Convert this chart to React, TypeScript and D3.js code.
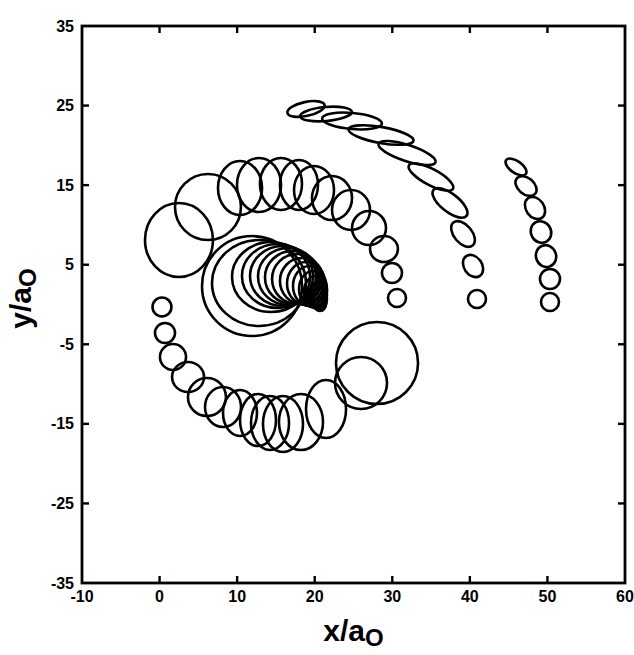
import React from "react";
import { scaleLinear } from "d3";

// rings as [x, y, rx, ry, tilt(deg)], all in units of a0
const upperArc = [
  [2.5, 8.11, 4.38, 4.65, 0],
  [6.24, 12.25, 4.25, 4.15, 0],
  [10.37, 14.64, 2.84, 3.39, 0],
  [12.82, 15.02, 2.84, 3.39, 0],
  [15.65, 15.14, 2.71, 3.27, 0],
  [17.97, 15.02, 2.45, 3.14, 0],
  [19.91, 14.39, 2.58, 3.02, 0],
  [22.23, 13.38, 2.58, 2.76, 0],
  [24.68, 11.88, 2.45, 2.51, 0],
  [27.0, 9.61, 2.19, 2.14, 0],
  [28.93, 6.97, 1.8, 1.63, 0],
  [29.96, 3.96, 1.29, 1.26, 0],
  [30.61, 0.82, 1.16, 1.13, 0]
];

const lowerArc = [
  [0.31, -0.31, 1.22, 1.19, 0],
  [0.7, -3.58, 1.29, 1.26, 0],
  [1.73, -6.6, 1.68, 1.63, 0],
  [3.67, -9.11, 2.06, 1.89, 0],
  [6.11, -11.63, 2.45, 2.39, 0],
  [8.18, -12.88, 2.32, 2.51, 0],
  [10.37, -13.64, 2.19, 2.89, 0],
  [12.69, -14.52, 2.32, 3.27, 0],
  [14.24, -14.89, 2.45, 3.39, 0],
  [15.91, -15.02, 2.58, 3.52, 0],
  [18.23, -14.77, 2.84, 3.52, 0],
  [21.46, -13.13, 2.58, 3.64, 0],
  [25.97, -9.87, 3.35, 3.27, 0],
  [28.03, -7.35, 5.29, 5.15, 0]
];

const innerSpiral = [
  [11.92, 2.32, 6.45, 6.28, 0],
  [12.82, 2.7, 6.06, 5.4, 0],
  [14.37, 3.46, 5.03, 4.4, 0],
  [15.2, 3.58, 4.58, 4.02, 0],
  [15.91, 3.58, 4.25, 3.77, 0],
  [16.56, 3.52, 3.87, 3.58, 0],
  [17.14, 3.39, 3.55, 3.33, 0],
  [17.72, 3.2, 3.22, 3.14, 0],
  [18.36, 2.95, 2.84, 2.89, 0],
  [18.88, 2.64, 2.45, 2.7, 0],
  [19.33, 2.32, 2.13, 2.51, 0],
  [19.78, 1.95, 1.8, 2.26, 0],
  [20.1, 1.57, 1.48, 2.01, 0],
  [20.42, 1.13, 1.16, 1.7, 0],
  [20.68, 0.69, 0.9, 1.38, 0],
  [20.68, 0.06, 0.77, 0.88, 0]
];

const middleArc = [
  [18.88, 24.57, 2.45, 0.88, -12],
  [21.46, 23.94, 3.35, 0.88, -5],
  [24.81, 23.06, 3.87, 1.01, 5],
  [28.55, 21.3, 4.25, 1.01, 10],
  [31.9, 19.04, 3.87, 1.01, 18],
  [34.99, 16.02, 3.22, 1.01, 28],
  [37.44, 12.76, 2.71, 1.13, 38],
  [39.12, 8.86, 1.93, 1.13, 50],
  [40.41, 4.84, 1.55, 1.13, 55],
  [40.92, 0.69, 1.16, 1.13, 0]
];

const outerArc = [
  [45.95, 17.28, 1.55, 0.75, 35],
  [47.24, 14.89, 1.55, 1.01, 40],
  [48.4, 12.13, 1.55, 1.13, 55],
  [49.17, 9.11, 1.42, 1.26, 60],
  [49.82, 6.09, 1.42, 1.26, 70],
  [50.33, 3.2, 1.29, 1.26, 0],
  [50.33, 0.31, 1.16, 1.13, 0]
];

const xTicks = [-10, 0, 10, 20, 30, 40, 50, 60];
const yTicks = [35, 25, 15, 5, -5, -15, -25, -35];

const font = "'Liberation Sans', Arial, sans-serif";

export default function App() {
  const width = 634;
  const height = 655;
  const margin = { left: 82, right: 9, top: 26, bottom: 72 };

  const x = scaleLinear().domain([-10, 60]).range([margin.left, width - margin.right]);
  const y = scaleLinear().domain([-35, 35]).range([height - margin.bottom, margin.top]);

  const rings = [...upperArc, ...lowerArc, ...innerSpiral, ...middleArc, ...outerArc];
  const tick = 7;

  return (
    <svg
      width={width}
      height={height}
      style={{ position: "absolute", left: 0, top: 0, background: "#fff" }}
    >
      {/* rings */}
      <g fill="none" stroke="#000" strokeWidth={2.6}>
        {rings.map((d, i) => {
          const cx = x(d[0]);
          const cy = y(d[1]);
          return (
            <ellipse
              key={i}
              cx={cx}
              cy={cy}
              rx={x(d[2]) - x(0)}
              ry={y(0) - y(d[3])}
              transform={d[4] ? `rotate(${d[4]} ${cx} ${cy})` : undefined}
            />
          );
        })}
      </g>

      {/* frame */}
      <rect
        x={x(-10)}
        y={y(35)}
        width={x(60) - x(-10)}
        height={y(-35) - y(35)}
        fill="none"
        stroke="#000"
        strokeWidth={2.8}
      />

      <g stroke="#000" strokeWidth={2.4}>
        {xTicks.slice(1, -1).map(t => (
          <g key={"x" + t}>
            <line x1={x(t)} x2={x(t)} y1={y(-35)} y2={y(-35) - tick} />
            <line x1={x(t)} x2={x(t)} y1={y(35)} y2={y(35) + tick} />
          </g>
        ))}
        {yTicks.slice(1, -1).map(t => (
          <g key={"y" + t}>
            <line x1={x(-10)} x2={x(-10) + tick} y1={y(t)} y2={y(t)} />
            <line x1={x(60)} x2={x(60) - tick} y1={y(t)} y2={y(t)} />
          </g>
        ))}
      </g>

      {/* tick labels */}
      <g fontFamily={font} fontWeight="bold" fontSize={16} fill="#000">
        {xTicks.map(t => (
          <text key={"xl" + t} x={x(t)} y={y(-35) + 19} textAnchor="middle">
            {t < 0 ? "-" + Math.abs(t) : t}
          </text>
        ))}
        {yTicks.map(t => (
          <text
            key={"yl" + t}
            x={x(-10) - 8}
            y={y(t)}
            textAnchor="end"
            dominantBaseline="central"
          >
            {t < 0 ? "-" + Math.abs(t) : t}
          </text>
        ))}
      </g>

      {/* axis titles */}
      <text
        x={(x(-10) + x(60)) / 2}
        y={height - 14}
        textAnchor="middle"
        fontFamily={font}
        fontWeight="bold"
        fontSize={30}
      >
        x/a<tspan fontSize={24} dy={5}>O</tspan>
      </text>
      <text
        transform={`translate(31, ${(y(-35) + y(35)) / 2 - 6}) rotate(-90)`}
        textAnchor="middle"
        fontFamily={font}
        fontWeight="bold"
        fontSize={30}
      >
        y/a<tspan fontSize={24} dy={5}>O</tspan>
      </text>
    </svg>
  );
}
